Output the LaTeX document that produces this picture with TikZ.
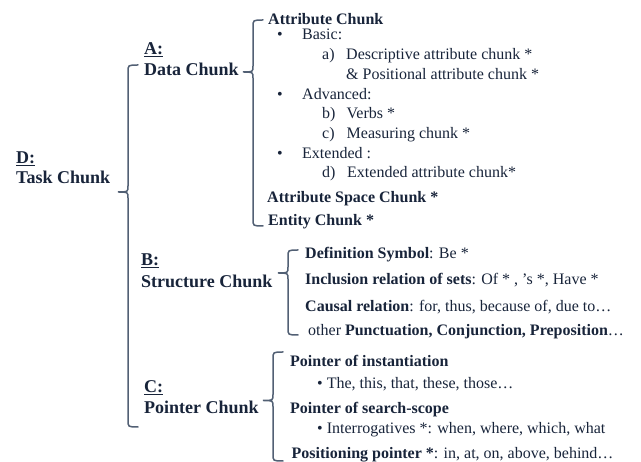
\documentclass[tikz,border=0pt]{standalone}
\usepackage{fontspec}
\setmainfont{Liberation Serif}
\usepackage{tikz}
\usetikzlibrary{positioning,calc}

\definecolor{chunktext}{RGB}{24,36,58}
\definecolor{chunkline}{RGB}{82,96,116}

% brace: x of the line, top, tip x, tip y, bottom
\newcommand{\chunkbrace}[5]{%
  \draw[brace] (#1+10,#2) .. controls (#1,#2) .. (#1,#2+7) -- (#1,#4-6)
    .. controls (#1,#4) .. (#3,#4) .. controls (#1,#4) .. (#1,#4+6)
    -- (#1,#5-7) .. controls (#1,#5) .. (#1+10,#5);}

\begin{document}
\begin{tikzpicture}[
    x=1pt, y=-1pt,
    head/.style={anchor=base west, inner sep=0pt, text=chunktext, font=\fontsize{18}{20}\selectfont\bfseries},
    item/.style={anchor=base west, inner sep=0pt, text=chunktext, font=\fontsize{16}{18}\selectfont},
    brace/.style={draw=chunkline, line width=1.5pt, line cap=round}
]
    \useasboundingbox (0,0) rectangle (641,462);

    % Headings
    \node [head] (dlabel) at (16,164) {\underline{D:}};
    \node [head] (dname) at (16,184) {Task Chunk};
    \node [head] (alabel) at (144,55) {\underline{A:}};
    \node [head] (aname) at (144,76) {Data Chunk};
    \node [head] (blabel) at (141,266) {\underline{B:}};
    \node [head] (bname) at (141,288) {Structure Chunk};
    \node [head] (clabel) at (144,393) {\underline{C:}};
    \node [head] (cname) at (144,414) {Pointer Chunk};

    % Data chunk list
    \node [item, font=\fontsize{16}{18}\selectfont\bfseries] (attr) at (268,25) {Attribute Chunk};
    \node [item] (bullet1) at (277,39.5) {•};
    \node [item] (basic) at (302,39.5) {Basic:};
    \node [item] (itema) at (322,60) {a)};
    \node [item] (descr) at (346,60) {Descriptive attribute chunk *};
    \node [item] (posit) at (346,79.5) {\& Positional attribute chunk *};
    \node [item] (bullet2) at (277,99.5) {•};
    \node [item] (advanced) at (302,99.5) {Advanced:};
    \node [item] (itemb) at (322,118.5) {b)};
    \node [item] (verbs) at (346.5,118.5) {Verbs *};
    \node [item] (itemc) at (322,138.5) {c)};
    \node [item] (measure) at (346.5,138.5) {Measuring chunk *};
    \node [item] (bullet3) at (277,158.5) {•};
    \node [item] (extended) at (302,158.5) {Extended :};
    \node [item] (itemd) at (322,177.5) {d)};
    \node [item] (extattr) at (347,177.5) {Extended attribute chunk*};
    \node [item, font=\fontsize{16}{18}\selectfont\bfseries] (space) at (267,202.5) {Attribute Space Chunk *};
    \node [item, font=\fontsize{16}{18}\selectfont\bfseries] (entity) at (268,226) {Entity Chunk *};

    % Structure chunk list
    \node [item] (defsym) at (305,258.5) {\textbf{Definition Symbol}: Be *};
    \node [item] (incl) at (305,285) {\textbf{Inclusion relation of sets}: Of * , ’s *, Have *};
    \node [item] (causal) at (305,311.5) {\textbf{Causal relation}: for, thus, because of, due to…};
    \node [item] (other) at (308,336) {other \textbf{Punctuation, Conjunction, Preposition}…};

    % Pointer chunk list
    \node [item, font=\fontsize{16}{18}\selectfont\bfseries] (inst) at (290,366.5) {Pointer of instantiation};
    \node [item] (instex) at (317,388.5) {• The, this, that, these, those…};
    \node [item, font=\fontsize{16}{18}\selectfont\bfseries] (scope) at (290,413.5) {Pointer of search-scope};
    \node [item] (scopeex) at (317,434) {• Interrogatives *: when, where, which, what};
    \node [item] (posptr) at (291.5,459) {\textbf{Positioning pointer *}: in, at, on, above, behind…};

    % Braces
    \chunkbrace{128}{65}{118}{192}{427}
    \chunkbrace{253}{20}{243}{72}{226}
    \chunkbrace{288}{250}{278}{273}{335}
    \chunkbrace{273}{352}{263}{400.5}{461}
\end{tikzpicture}
\end{document}
